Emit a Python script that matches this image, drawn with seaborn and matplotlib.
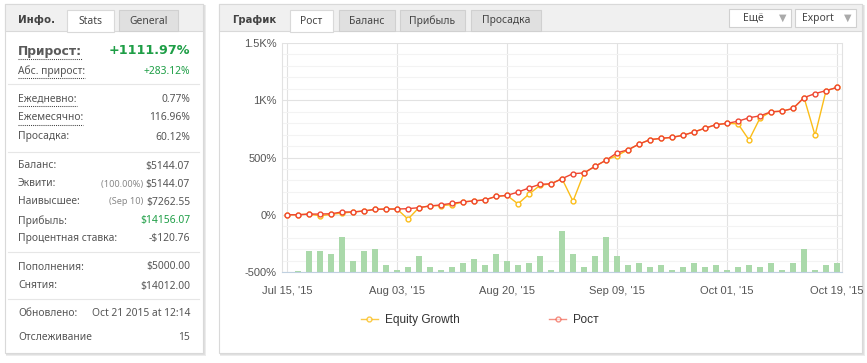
import matplotlib
matplotlib.use("Agg")
import matplotlib.pyplot as plt
from matplotlib.patches import Rectangle
from matplotlib.lines import Line2D
import seaborn as sns

# --- data ---
days = list(range(51))
rost = [0, 0, 6, 6, 9, 24, 24, 33, 47, 50,
        50, 53, 62, 77, 86, 100, 112, 121, 130, 160,
        169, 198, 234, 266, 270, 315, 359, 365, 423, 476,
        541, 567, 617, 656, 667, 676, 694, 723, 756, 787,
        798, 817, 847, 864, 899, 905, 928, 1023, 1058, 1084, 1112]
equity = [0, 0, 6, -9, 3, 15, 24, 33, 47, 50,
          50, -38, 62, 77, 80, 88, 112, 121, 130, 160,
          169, 95, 180, 257, 270, 315, 118, 365, 423, 476,
          517, 567, 617, 656, 667, 676, 694, 723, 756, 787,
          798, 794, 653, 845, 899, 905, 928, 1023, 694, 1084, 1112]
daily = [0, 9, 183, 183, 160, 302, 98, 183, 204, 65,
         18, 44, 142, 44, 18, 44, 80, 112, 62, 160,
         98, 62, 80, 142, 18, 362, 160, 44, 142, 302,
         142, 62, 80, 44, 62, 18, 44, 80, 44, 62,
         18, 44, 62, 44, 80, 18, 80, 204, 18, 62, 80]
xtick_pos = [0, 10, 20, 30, 40, 50]
xtick_labels = ["Jul 15, '15", "Aug 03, '15", "Aug 20, '15", "Sep 09, '15", "Oct 01, '15", "Oct 19, '15"]
ytick_pos = [-500, 0, 500, 1000, 1500]
ytick_labels = ["-500%", "0%", "500%", "1K%", "1.5K%"]

stat_labels = ["Прирост:", "Абс. прирост:", "Ежедневно:", "Ежемесячно:", "Просадка:",
               "Баланс:", "Эквити:", "Наивысшее:", "Прибыль:", "Процентная ставка:",
               "Пополнения:", "Снятия:"]
stat_values = ["+1111.97%", "+283.12%", "0.77%", "116.96%", "60.12%",
               "$5144.07", "$5144.07", "$7262.55", "$14156.07", "-$120.76",
               "$5000.00", "$14012.00"]
stat_notes = {6: "(100.00%) ", 7: "(Sep 10) "}
stat_y = [51, 71, 99, 118, 137, 166, 184, 202, 221, 238, 267, 286]
tabs_chart = ["Рост", "Баланс", "Прибыль", "Просадка"]

W, H = 867, 363
RED, YELLOW, GREEN_BAR = "#ef4631", "#fbbd19", "#aad9aa"
TXT = "#555555"
PANEL_FONT = "Noto Sans"
BOLD_FONT = "DejaVu Sans"
CHART_FONT = "Liberation Sans"

fig = plt.figure(figsize=(W / 100, H / 100), dpi=100)
fig.patch.set_facecolor("white")
bg = fig.add_axes([0, 0, 1, 1], zorder=0)
bg.set_xlim(0, W)
bg.set_ylim(H, 0)
bg.axis("off")


def box(x0, y0, x1, y1, fc, ec="none", lw=0.8, z=1):
    bg.add_patch(Rectangle((x0, y0), x1 - x0, y1 - y0, facecolor=fc,
                           edgecolor=ec, linewidth=lw, zorder=z))


def txt(x, y, s, size=7.4, color=TXT, ha="left", bold=False, family=None):
    fam = family or (BOLD_FONT if bold else PANEL_FONT)
    return bg.text(x, y, s, ha=ha, va="center", fontsize=size, color=color,
                   fontweight="bold" if bold else "normal", family=fam, zorder=5)


# panels with a soft shadow
for (x0, y0, x1, y1) in [(5, 4, 203, 353), (219, 4, 862, 353)]:
    box(x0 + 1, y0 + 1, x1 + 3, y1 + 3, "#ececec", z=0.5)
    box(x0 + 1, y0 + 1, x1 + 2, y1 + 2, "#e0e0e0", z=0.6)
    box(x0, y0, x1, y1, "white", "#d9d9d9", z=1)
    box(x0, y0, x1, 31, "#f0f0f0", "#d9d9d9", z=1.1)

# left header
txt(18, 20, "Инфо.", size=7.4, color="#444444", bold=True)
box(67, 10, 114, 32, "white", "#d9d9d9", z=1.2)
txt(90.5, 21, "Stats", ha="center", color="#444444")
box(119, 10, 178, 31, "#e0e0e0", "#d0d0d0", z=1.2)
txt(148.5, 21, "General", ha="center", color="#444444")

# stats block
rend = fig.canvas.get_renderer()
for i, (lab, val, y) in enumerate(zip(stat_labels, stat_values, stat_y)):
    if i == 0:
        t = txt(18, y, lab, size=8.8, color="#5a5a5a", bold=True)
        txt(190, y, val, size=9.2, color="#1e9e46", bold=True, ha="right")
    else:
        t = txt(18, y, lab)
        col = "#1e9e46" if val.startswith("+") or i == 8 else TXT
        v = txt(190, y, val, color=col, ha="right")
        if i in stat_notes:
            bb = v.get_window_extent(rend)
            txt(bb.x0, y, stat_notes[i], size=6.6, color="#888888", ha="right")
    if i < 4:
        bb = t.get_window_extent(rend)
        bg.plot([bb.x0, bb.x1], [H - bb.y0 + 1.5] * 2, color="#444444", lw=0.75,
                ls=(0, (1, 1)), zorder=5)

for y in [84, 152, 252, 299]:
    bg.plot([8, 199], [y, y], color="#e6e6e6", lw=0.8, zorder=2)
txt(18, 314, "Обновлено:")
txt(190, 314, "Oct 21 2015 at 12:14", ha="right")
txt(18, 337, "Отслеживание")
txt(190, 337, "15", ha="right")

# right header
txt(232, 20, "График", size=7.2, color="#444444", bold=True)
for k, (name, x0, x1) in enumerate(zip(tabs_chart, [290, 339, 400, 471], [333, 395, 465, 541])):
    if k == 0:
        box(x0, 10, x1, 32, "white", "#d9d9d9", z=1.2)
    else:
        box(x0, 10, x1, 31, "#e0e0e0", "#d0d0d0", z=1.2)
    txt((x0 + x1) / 2, 21, name, ha="center", color="#444444")
for name, x0, x1, xt in [("Ещё", 729, 791, 753), ("Export", 795, 856, 818)]:
    box(x0, 9, x1, 27, "white", "#d0d0d0", z=1.2)
    txt(xt, 18, name, ha="center", color="#444444")
    txt(x1 - 8, 18, "▼", size=7, color="#aaaaaa", ha="center", family="DejaVu Sans")

# --- chart ---
rect = [282 / W, 1 - 272 / H, (842 - 282) / W, (272 - 43) / H]
axb = fig.add_axes(rect, zorder=2)
sns.barplot(x=days, y=daily, ax=axb, color=GREEN_BAR, width=0.5, saturation=1)
axb.set_xlim(-0.45, 50.45)
axb.set_ylim(0, 2000)
axb.set_xticks(xtick_pos)
axb.set_yticks(range(0, 2001, 500))
axb.set_yticks(range(0, 2001, 100), minor=True)
axb.grid(axis="y", which="major", color="#e2e2e2", lw=0.8)
axb.grid(axis="y", which="minor", color="#f3f3f3", lw=0.8)
axb.grid(axis="x", which="major", color="#e2e2e2", lw=0.8)
axb.set_axisbelow(True)
axb.tick_params(which="both", length=0, labelleft=False, labelbottom=False)
axb.set_xlabel("")
axb.set_ylabel("")
axb.spines["top"].set_visible(False)
axb.spines["bottom"].set_color("#c0d0e0")
axb.spines["left"].set_color("#e2e2e2")
axb.spines["right"].set_color("#e2e2e2")

ax = fig.add_axes(rect, zorder=3)
ax.patch.set_visible(False)
line_kw = dict(marker="o", markersize=3.5, markerfacecolor="white", markeredgewidth=1.0,
               linewidth=1.0, clip_on=False)
sns.lineplot(x=days, y=equity, ax=ax, color=YELLOW, markeredgecolor=YELLOW, **line_kw)
sns.lineplot(x=days, y=rost, ax=ax, color=RED, markeredgecolor=RED, **line_kw)
ax.set_xlim(-0.45, 50.45)
ax.set_ylim(-500, 1500)
ax.set_xticks(xtick_pos, xtick_labels)
ax.set_yticks(ytick_pos, ytick_labels)
ax.tick_params(length=0, labelsize=8, labelcolor="#555555")
ax.tick_params(axis="x", pad=10)
ax.tick_params(axis="y", pad=4)
for lab in ax.get_xticklabels() + ax.get_yticklabels():
    lab.set_family(CHART_FONT)
ax.set_xlabel("")
ax.set_ylabel("")
for s in ax.spines.values():
    s.set_visible(False)

handles = [Line2D([], [], color=YELLOW, marker="o", ms=3.5, mfc="white", mec=YELLOW, lw=1.0, alpha=0.8),
           Line2D([], [], color=RED, marker="o", ms=3.5, mfc="white", mec=RED, lw=1.0, alpha=0.6)]
fig.legend(handles, ["Equity Growth", "Рост"], ncol=2, loc="center",
           bbox_to_anchor=(480 / W, 1 - 320 / H), frameon=False,
           prop={"family": CHART_FONT, "size": 8.6}, labelcolor="#333333",
           handlelength=1.4, handletextpad=0.6, columnspacing=7.5)

fig.savefig("out.png", dpi=100)
